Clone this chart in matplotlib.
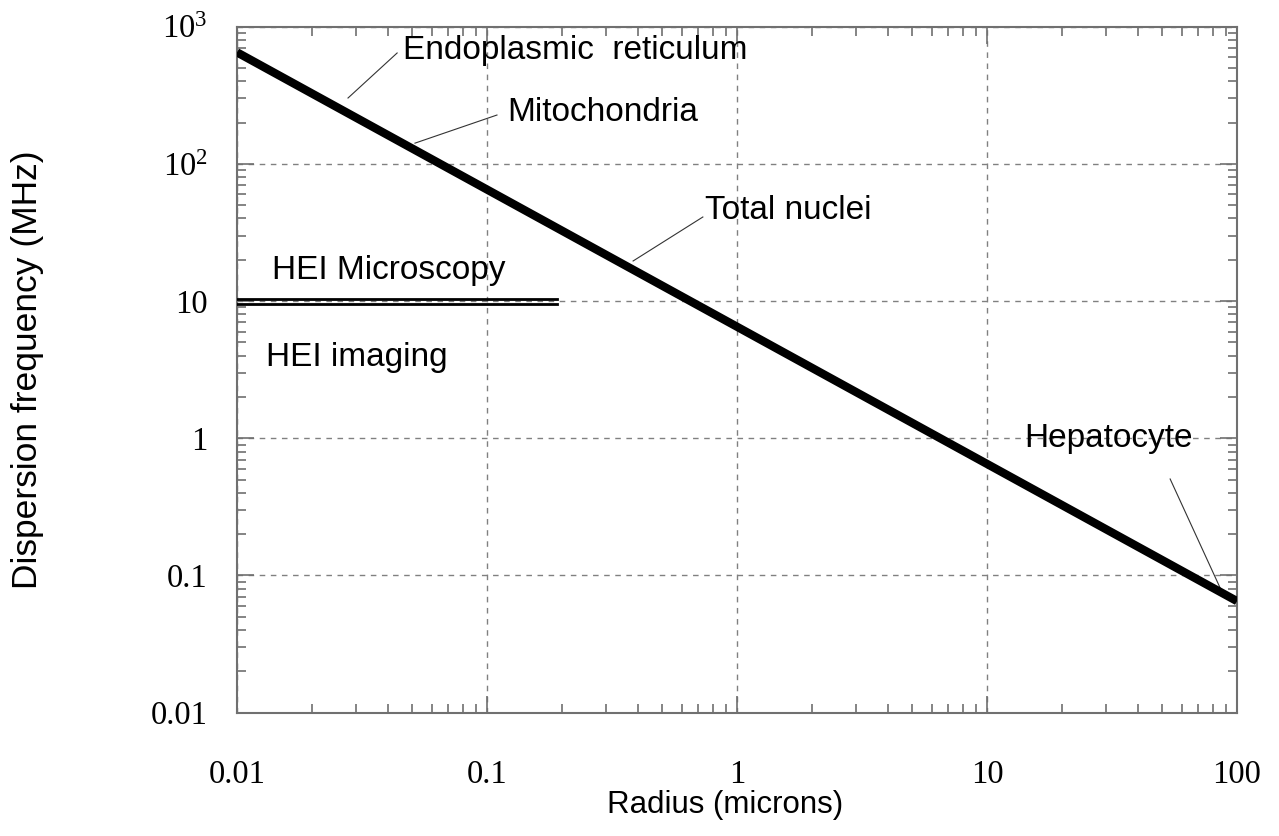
import matplotlib
matplotlib.use("Agg")
import matplotlib.pyplot as plt
from matplotlib.ticker import LogLocator, FixedLocator, FixedFormatter, NullFormatter

plt.rcParams["mathtext.fontset"] = "custom"
plt.rcParams["mathtext.rm"] = "Liberation Serif"
plt.rcParams["mathtext.it"] = "Liberation Serif:italic"

# Dispersion frequency vs. particle radius
radius = [0.01, 0.1, 1, 10, 100]
freq_mhz = [650, 65, 6.5, 0.65, 0.065]

# HEI bands (two horizontal lines)
hei_x = [0.01, 0.19]
hei_levels = [10.4, 9.6]

# Annotations: label, tip (on curve), leader start, text anchor (left, centre)
ann_labels = ["Endoplasmic  reticulum", "Mitochondria", "Total nuclei", "Hepatocyte"]
ann_tip_x = [0.0278, 0.0515, 0.384, 86.3]
ann_tip_y = [302, 141.6, 19.6, 0.0785]
ann_lead_x = [0.0437, 0.1096, 0.73, 54]
ann_lead_y = [643, 227, 41, 0.505]
ann_text_x = [0.0461, 0.121, 0.745, 14.06]
ann_text_y = [676, 235, 46.1, 1.0]

band_labels = ["HEI Microscopy", "HEI imaging"]
band_text_x = [0.0138, 0.0131]
band_text_y = [16.8, 3.85]

xticks = [0.01, 0.1, 1, 10, 100]
xtick_labels = ["0.01", "0.1", "1", "10", "100"]
yticks = [0.01, 0.1, 1, 10, 100, 1000]
ytick_labels = ["0.01", "0.1", "1", "10", r"$10^2$", r"$10^3$"]

SPINE = "#707070"

fig = plt.figure(figsize=(12.79, 8.36), dpi=100)
ax = fig.add_axes([0.1853, 0.1475, 0.7819, 0.8206])
ax.set_xscale("log")
ax.set_yscale("log")
ax.set_xlim(0.01, 100)
ax.set_ylim(0.01, 1000)

ax.plot(radius, freq_mhz, color="black", lw=6, solid_capstyle="butt", zorder=4)
for level in hei_levels:
    ax.plot(hei_x, [level, level], color="black", lw=2, zorder=4)

for label, tx, ty, lx, ly, px, py in zip(ann_labels, ann_tip_x, ann_tip_y,
                                         ann_lead_x, ann_lead_y,
                                         ann_text_x, ann_text_y):
    ax.plot([tx, lx], [ty, ly], color="#333333", lw=0.8, zorder=3)
    ax.text(px, py, label, ha="left", va="center", fontsize=24,
            family="Liberation Sans", zorder=5)

for label, px, py in zip(band_labels, band_text_x, band_text_y):
    ax.text(px, py, label, ha="left", va="center", fontsize=24,
            family="Liberation Sans", zorder=5)

ax.xaxis.set_major_locator(FixedLocator(xticks))
ax.xaxis.set_major_formatter(FixedFormatter(xtick_labels))
ax.yaxis.set_major_locator(FixedLocator(yticks))
ax.yaxis.set_major_formatter(FixedFormatter(ytick_labels))
for axis in (ax.xaxis, ax.yaxis):
    axis.set_minor_locator(LogLocator(base=10, subs=range(2, 10), numticks=20))
    axis.set_minor_formatter(NullFormatter())

ax.grid(True, which="major", color="#808080", ls=(0, (4, 4)), lw=1)
ax.tick_params(which="both", direction="in", top=True, right=True,
               color=SPINE, width=1.2)
ax.tick_params(which="major", length=12)
ax.tick_params(which="minor", length=6.5)
ax.tick_params(axis="x", which="major", pad=34, labelsize=23.5)
ax.tick_params(axis="y", which="major", pad=21, labelsize=23.5)
for lab in ax.get_xticklabels() + ax.get_yticklabels():
    lab.set_family("Liberation Serif")

for spine in ax.spines.values():
    spine.set_color(SPINE)
    spine.set_linewidth(1.5)

ax.set_xlabel("Radius (microns)", fontsize=22.5, family="Liberation Sans")
ax.set_ylabel("Dispersion frequency (MHz)", fontsize=25.5, family="Liberation Sans")
ax.xaxis.set_label_coords(0.488, -0.113)
ax.yaxis.set_label_coords(-0.193, 0.5)

fig.savefig("out.png", dpi=100)
